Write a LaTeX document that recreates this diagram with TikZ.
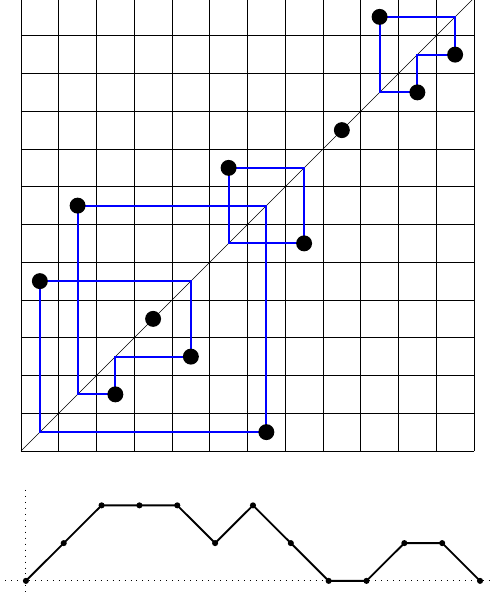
\documentclass[tikz,border=0pt]{standalone}
\usepackage{tikz}
\usetikzlibrary{calc}

\begin{document}
\begin{tikzpicture}[
    cyc/.style={blue, line width=1.6pt},
    dot/.style={black},
    axisdots/.style={line width=0.7pt, dash pattern=on 0.7pt off 3.8pt},
  ]
    \clip (-0.556,-3.894) rectangle (12.477,11.947);

    % Grid
    \draw[line width=0.6pt] (0,0) grid (12,12);
    \draw[line width=0.5pt] (0,0) -- (12,12);

    % Points of the permutation 5 7 2 4 3 8 1 6 9 12 10 11
    \foreach \y [count=\x] in {5,7,2,4,3,8,1,6,9,12,10,11} {
        \coordinate (p\x) at (\x-0.5, \y-0.5);
    }

    % Cycles
    \draw[cyc] (p1) -| (p5) -| (p3) -| (p2) -| (p7) -| (p1);
    \draw[cyc] (p6) -| (p8) -| (p6);
    \draw[cyc] (p10) -| (p12) -| (p11) -| (p10);

    \foreach \x in {1,...,12} {
        \fill[dot] (p\x) circle (6pt);
    }

    % Axes of the path
    \coordinate (xa) at (-0.42,-3.44);
    \coordinate (xb) at (12.48,-3.44);
    \coordinate (ya) at (0.13,-1.03);
    \coordinate (yb) at (0.13,-3.81);
    \draw[axisdots] (xa) -- (xb);
    \draw[axisdots] (ya) -- (yb);

    % Motzkin path
    \foreach \h [count=\i from 0] in {0,1,2,2,2,1,2,1,0,0,1,1,0} {
        \coordinate (m\i) at (0.13+1.0025*\i, -3.44+\h);
    }
    \draw[line width=1.4pt] (m0) \foreach \i in {1,...,12} { -- (m\i) };
    \foreach \i in {0,...,12} {
        \fill (m\i) circle (2.3pt);
    }
\end{tikzpicture}
\end{document}
